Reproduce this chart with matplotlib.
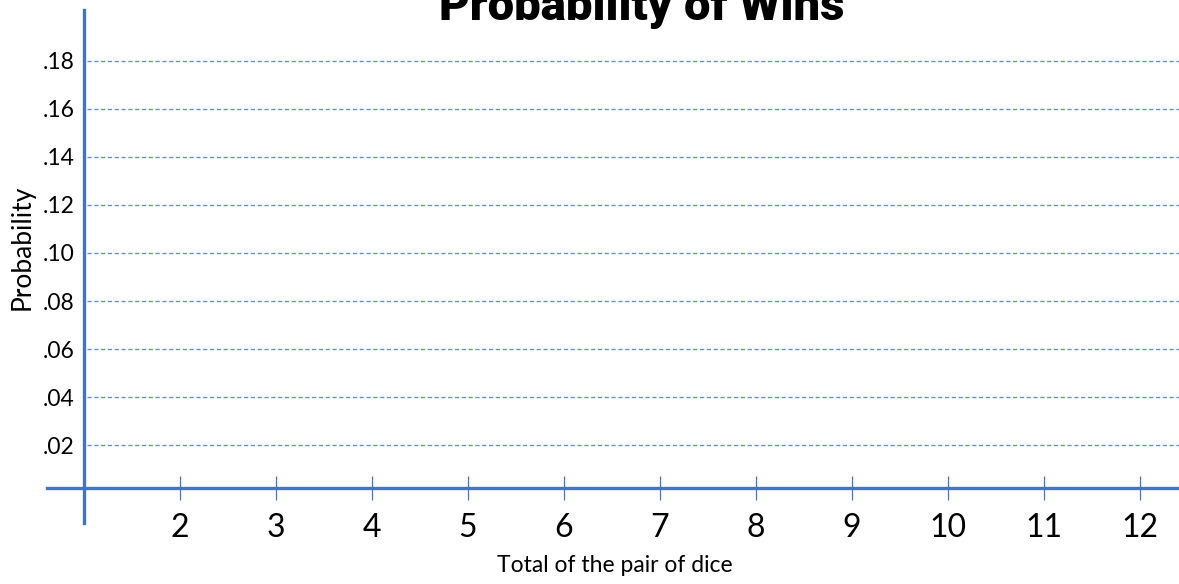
import matplotlib.pyplot as plt

# dice totals on x, probability gridlines on y (chart is empty, only the frame)
totals = [2, 3, 4, 5, 6, 7, 8, 9, 10, 11, 12]
prob_ticks = [.02, .04, .06, .08, .10, .12, .14, .16, .18]
prob_labels = ['.02', '.04', '.06', '.08', '.10', '.12', '.14', '.16', '.18']

blue = '#4472C4'
plt.rcParams['font.family'] = ['Lato', 'DejaVu Sans']

fig = plt.figure(figsize=(11.79, 5.84), dpi=100)
ax = fig.add_axes([0, 0, 1, 1])
ax.set_xlim(0.125, 12.406)
ax.set_ylim(-0.0379, 0.2054)
ax.patch.set_visible(False)

ax.spines['top'].set_visible(False)
ax.spines['right'].set_visible(False)
ax.spines['left'].set_position(('data', 1))
ax.spines['left'].set_bounds(-0.0125, 0.2013)
ax.spines['bottom'].set_position(('data', 0.002))
ax.spines['bottom'].set_bounds(0.615, 12.406)
for s in ['left', 'bottom']:
    ax.spines[s].set_color(blue)
    ax.spines[s].set_linewidth(2.4)

# dashed gridlines start at the vertical axis
ax.hlines(prob_ticks, 1.03, 12.406, colors='#6690D8',
          linestyles=(0, (3.0, 1.9)), linewidth=1.0)

ax.set_xticks(totals)
ax.set_xticklabels([str(t) for t in totals])
ax.tick_params(axis='x', direction='inout', length=17, width=0.9,
               color=blue, pad=9, labelsize=23)
ax.set_yticks(prob_ticks)
ax.set_yticklabels(prob_labels)
ax.tick_params(axis='y', length=0, pad=7, labelsize=16.5)

fig.text(0.544, 1 - 20 / 584, 'Probability of Wins', ha='center', va='baseline',
         fontsize=34, fontweight='black', family=['Roboto', 'DejaVu Sans'])
fig.text(22 / 1179, 1 - 247 / 584, 'Probability', rotation=90, ha='center',
         va='center', fontsize=19)
fig.text(615 / 1179, 1 - 565 / 584, 'Total of the pair of dice', ha='center',
         va='center', fontsize=16.5)

fig.savefig('out.png', dpi=100)
